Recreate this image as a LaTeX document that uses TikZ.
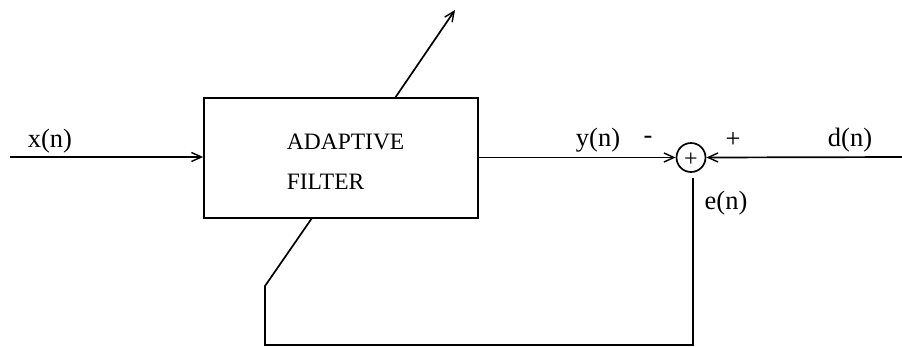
\documentclass[tikz,border=0pt]{standalone}
\usepackage{fontspec}
\setmainfont{Liberation Serif}
\usetikzlibrary{arrows.meta}
\begin{document}
\begin{tikzpicture}[x=1pt,y=-1pt,
  line width=1.7pt,
  arr/.style={-{Straight Barb[length=10pt,width=9pt,line width=1.4pt]}},
  lbl/.style={font=\fontsize{26.5}{28}\selectfont, inner sep=0pt},
  boxst/.style={draw, line width=1.7pt, minimum width=274pt, minimum height=120pt, inner sep=0pt}]
\useasboundingbox (0,0) rectangle (902,346);
% filter box
\node[boxst] (box) at (341,158) {};
\node[font=\fontsize{23.5}{40}\selectfont, align=left, anchor=west, inner sep=0pt] (txt) at (286,162) {ADAPTIVE\\FILTER};
% summing junction
\node[draw, circle, minimum size=29pt, inner sep=0pt, line width=1.7pt] (sum) at (691,157.5) {};
\node[font=\fontsize{24}{24}\selectfont, inner sep=0pt] (plus) at (691,160) {+};
% coordinates
\coordinate (xin) at (10,157);
\coordinate (din) at (902,157);
\coordinate (bot) at (693,345);
\coordinate (corner) at (265,345);
\coordinate (bend) at (265,286);
\coordinate (lowhit) at (312,218);
\coordinate (uphit) at (395,98);
\coordinate (tip) at (455,10);
\coordinate (eup) at (693,178);
% connectors
\draw[arr] (xin) -- (box.west |- xin);
\draw[arr] (box.east |- sum) -- (sum.west);
\draw[arr] (din) -- (sum.east);
\draw (eup) -- (bot) -- (corner) -- (bend) -- (lowhit);
\draw[arr] (uphit) -- (tip);
% labels
\node[lbl] (lx) at (50,141) {x(n)};
\node[lbl] (ly) at (598,140) {y(n)};
\node[lbl] (lm) at (648,140) {-};
\node[lbl] (lp) at (733,140) {+};
\node[lbl] (ld) at (850,140) {d(n)};
\node[lbl] (le) at (726,203) {e(n)};
\end{tikzpicture}
\end{document}
